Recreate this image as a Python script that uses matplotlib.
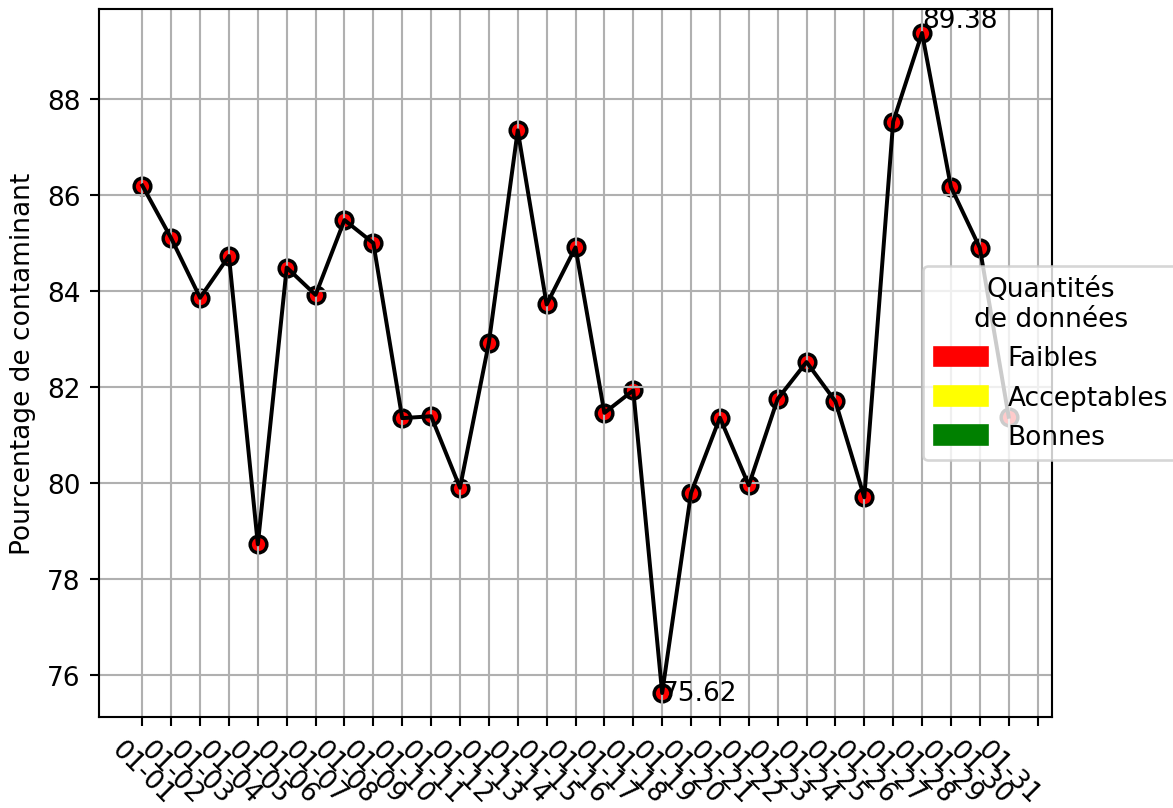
import matplotlib
matplotlib.use("Agg")
import matplotlib.pyplot as plt
import matplotlib.patches as mpatches

# dates (jours de janvier)
jours = ["01-%02d" % d for d in range(1, 32)]

# pourcentage de contaminant
valeurs = [86.20, 85.10, 83.86, 84.73, 78.72, 84.49, 83.92, 85.48, 85.00, 81.35,
           81.39, 79.90, 82.92, 87.35, 83.72, 84.91, 81.46, 81.93, 75.62, 79.79,
           81.36, 79.95, 81.75, 82.52, 81.70, 79.70, 87.53, 89.38, 86.17, 84.90,
           81.38]

legende_labels = ["Faibles", "Acceptables", "Bonnes"]
legende_couleurs = ["red", "yellow", "green"]

x = list(range(len(jours)))

DPI = 190
fig = plt.figure(figsize=(1173 / DPI, 809 / DPI), dpi=DPI)
ax = fig.add_axes([99 / 1173, 1 - 718 / 809, (1052 - 99) / 1173, (718 - 10) / 809])

# points colorés selon la quantité de données (ici toutes faibles)
ax.scatter(x, valeurs, color="red", edgecolors="black", s=40, linewidths=1.3, zorder=1)
ax.plot(x, valeurs, color="black", lw=1.5, zorder=2)

# annotations min / max
i_max = valeurs.index(max(valeurs))
i_min = valeurs.index(min(valeurs))
ax.text(i_max, valeurs[i_max], f"{valeurs[i_max]:.2f}", ha="left", va="bottom")
ax.text(i_min, valeurs[i_min], f"{valeurs[i_min]:.2f}", ha="left", va="center")

ax.set_xticks(list(range(len(jours) + 1)))
ax.set_xticklabels(jours + [""], rotation=-45)
ax.set_xlim(-1.5, 31.5)
ax.set_ylim(min(valeurs) - 0.5, max(valeurs) + 0.5)
ax.set_yticks([76, 78, 80, 82, 84, 86, 88])
ax.set_ylabel("Pourcentage de contaminant")
ax.grid(True)

handles = [mpatches.Patch(color=c, label=l) for c, l in zip(legende_couleurs, legende_labels)]
leg = ax.legend(handles=handles, title="Quantités\nde données", loc="center left",
                bbox_to_anchor=(0.851, 0.5))
leg.get_title().set_multialignment("center")

fig.savefig("out.png", dpi=DPI)
